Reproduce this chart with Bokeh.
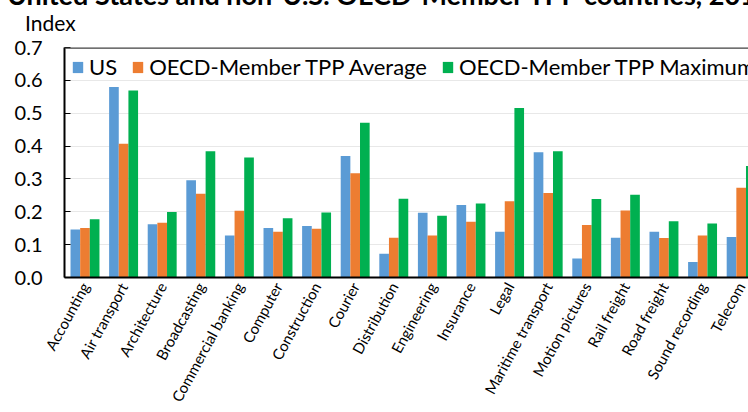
from bokeh.plotting import figure
from bokeh.layouts import column
from bokeh.models import Span, FixedTicker, Div
from bokeh.embed import file_html
from bokeh.resources import INLINE
import numpy as np

categories = ["Accounting", "Air transport", "Architecture", "Broadcasting",
              "Commercial banking", "Computer", "Construction", "Courier",
              "Distribution", "Engineering", "Insurance", "Legal",
              "Maritime transport", "Motion pictures", "Rail freight",
              "Road freight", "Sound recording", "Telecom"]
us = [0.146, 0.580, 0.162, 0.296, 0.128, 0.151, 0.157, 0.370, 0.072,
      0.197, 0.221, 0.139, 0.381, 0.058, 0.121, 0.139, 0.047, 0.123]
tpp_avg = [0.151, 0.407, 0.167, 0.255, 0.203, 0.139, 0.148, 0.317, 0.121,
           0.128, 0.170, 0.232, 0.257, 0.160, 0.204, 0.120, 0.128, 0.273]
tpp_max = [0.177, 0.569, 0.199, 0.384, 0.365, 0.180, 0.198, 0.471, 0.240,
           0.188, 0.225, 0.516, 0.384, 0.239, 0.252, 0.171, 0.164, 0.339]
y_ticks = [0.0, 0.1, 0.2, 0.3, 0.4, 0.5, 0.6, 0.7]
series_names = ["US", "OECD-Member TPP Average", "OECD-Member TPP Maximum"]
colors = ["#5B9BD5", "#ED7D31", "#00B050"]
title_text = "United States and non-U.S. OECD-Member TPP countries, 2014"
y_unit_text = "Index"

FONT = "Lato"
W = 748
HEAD_H = 34

# --- header strip: title (cut at the top edge, as in the source) and unit label
head_html = (
    f'<div style="position:relative;width:{W}px;height:{HEAD_H}px;overflow:hidden;">'
    f'<div style="position:absolute;left:7px;top:-19px;white-space:nowrap;'
    f'font-family:{FONT};font-weight:bold;font-size:27px;line-height:27px;color:black;">'
    f'{title_text}</div>'
    f'<div style="position:absolute;left:25px;top:12px;white-space:nowrap;'
    f'font-family:{FONT};font-size:21px;line-height:21px;color:black;">'
    f'{y_unit_text}</div></div>'
)
head = Div(text=head_html, width=W, height=HEAD_H, margin=0,
           styles={"overflow": "hidden"})

# --- main chart
x = np.arange(len(categories))
p = figure(width=W, height=412 - HEAD_H, output_backend="svg", toolbar_location=None,
           x_range=(-0.531, 17.19), y_range=(0, 0.7),
           min_border_left=64, min_border_right=0, min_border_top=47 - HEAD_H,
           min_border_bottom=125)

bw = 0.25
for vals, off, col, name in zip([us, tpp_avg, tpp_max], [-bw, 0, bw], colors, series_names):
    p.vbar(x=x + off, top=vals, width=bw, fill_color=col, line_color=None,
           legend_label=name)

p.outline_line_color = None
p.xgrid.grid_line_color = None
p.ygrid.grid_line_color = "#E8E8E8"
p.ygrid.ticker = FixedTicker(ticks=y_ticks)

p.yaxis.ticker = FixedTicker(ticks=y_ticks)
p.yaxis.major_label_overrides = {t: f"{t:.1f}" for t in y_ticks}
p.yaxis.axis_line_color = "black"
p.yaxis.axis_line_width = 2
p.yaxis.major_tick_in = 6
p.yaxis.major_tick_out = 0
p.yaxis.minor_tick_line_color = None
p.yaxis.major_tick_line_color = "black"
p.yaxis.major_label_standoff = 22
p.yaxis.major_label_text_font = FONT
p.yaxis.major_label_text_font_size = "20px"
p.yaxis.major_label_text_color = "black"

p.xaxis.ticker = FixedTicker(ticks=list(x))
p.xaxis.major_label_overrides = {int(i): c for i, c in zip(x, categories)}
p.xaxis.major_label_orientation = 1.07
p.xaxis.axis_line_color = "black"
p.xaxis.axis_line_width = 2
p.xaxis.major_tick_in = 0
p.xaxis.major_tick_out = 0
p.xaxis.minor_tick_line_color = None
p.xaxis.major_label_standoff = 6
p.xaxis.major_label_text_font = FONT
p.xaxis.major_label_text_font_size = "15px"
p.xaxis.major_label_text_color = "black"

p.add_layout(Span(location=0.7, dimension="width", line_color="#404040", line_width=2.5))

lg = p.legend[0]
lg.orientation = "horizontal"
lg.location = (7, 197)
lg.padding = 0
lg.margin = 0
lg.spacing = 14
lg.label_standoff = 5
lg.glyph_width = 13
lg.glyph_height = 14
lg.background_fill_alpha = 0
lg.border_line_color = None
lg.label_text_font = FONT
lg.label_text_font_size = "22px"
lg.label_text_color = "black"

layout = column(head, p, spacing=0)
open("out.html", "w").write(file_html(layout, INLINE))
